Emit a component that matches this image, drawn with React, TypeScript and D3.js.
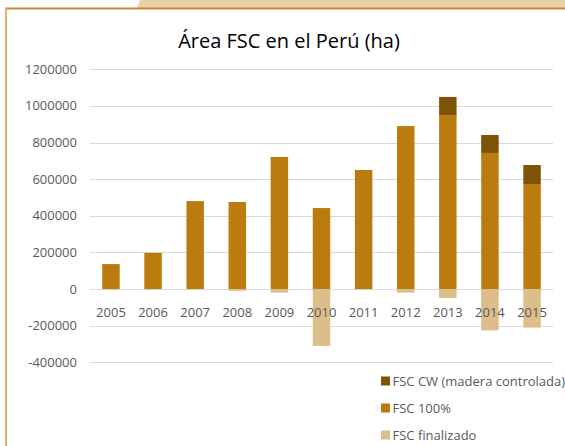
import React from "react";
import * as d3 from "d3";

const years = ["2005","2006","2007","2008","2009","2010","2011","2012","2013","2014","2015"];
const fsc100 = [136000,197000,480000,475000,721000,442000,650000,890000,950000,743000,573000];
const fscCW = [0,0,0,0,0,0,0,0,99000,98000,104000];
const fscFinalizado = [-2000,-2000,-2000,-10000,-20000,-311000,-3000,-20000,-49000,-226000,-211000];
const yTicks = [-400000,-200000,0,200000,400000,600000,800000,1000000,1200000];
const legendItems = ["FSC CW (madera controlada)","FSC 100%","FSC finalizado"];

const W = 565, H = 446;
const C_CW = "#7f5306";
const C_100 = "#bb7b0f";
const C_FIN = "#dcbe8b";
const FONT = "'Open Sans', sans-serif";

export default function App() {
  const x = d3.scaleBand().domain(years).range([90, 553]).paddingInner(0.585).paddingOuter(0.29);
  const y = d3.scaleLinear().domain([-400000, 1200000]).range([362.2, 69.3]);
  const bw = x.bandwidth();
  const legendColors = [C_CW, C_100, C_FIN];
  return (
    <svg width={W} height={H} style={{ position: "absolute", left: 0, top: 0 }} fontFamily={FONT}>
      <rect x={0} y={0} width={W} height={H} fill="#fff" />
      <path d={`M140,0 L${W},0 L${W},8 L137,8 Z`} fill="#e8d1a8" />
      <line x1={5} x2={W} y1={8.5} y2={8.5} stroke="#c88a30" strokeWidth={2} />
      <line x1={6} x2={6} y1={8} y2={H} stroke="#dcb468" strokeWidth={2} />
      <text x={289} y={48} textAnchor="middle" fontSize={20} fill="#000">Área FSC en el Perú (ha)</text>
      {yTicks.map((t) => (
        <g key={t}>
          <line x1={90} x2={553} y1={Math.round(y(t)) + 0.5} y2={Math.round(y(t)) + 0.5} stroke="#d9d9d9" strokeWidth={1} />
          <text x={77} y={y(t)} dy="0.35em" textAnchor="end" fontSize={13} fill="#595959">{t}</text>
        </g>
      ))}
      {years.map((yr, i) => {
        const x0 = x(yr)!;
        return (
          <g key={yr}>
            <rect x={x0} width={bw} y={y(0)} height={y(fscFinalizado[i]) - y(0)} fill={C_FIN} />
            <rect x={x0} width={bw} y={y(fsc100[i])} height={y(0) - y(fsc100[i])} fill={C_100} />
            {fscCW[i] > 0 && (
              <rect x={x0} width={bw} y={y(fsc100[i] + fscCW[i])} height={y(fsc100[i]) - y(fsc100[i] + fscCW[i])} fill={C_CW} />
            )}
          </g>
        );
      })}
      {years.map((yr) => (
        <text key={"l" + yr} x={x(yr)! + bw / 2} y={312} dy="0.35em" textAnchor="middle" fontSize={13} fill="#595959">{yr}</text>
      ))}
      {legendItems.map((s, i) => (
        <g key={s}>
          <rect x={381} y={376.5 + i * 27} width={9} height={9} fill={legendColors[i]} />
          <text x={392.5} y={381 + i * 27} dy="0.35em" fontSize={13} fill="#595959">{s}</text>
        </g>
      ))}
    </svg>
  );
}
